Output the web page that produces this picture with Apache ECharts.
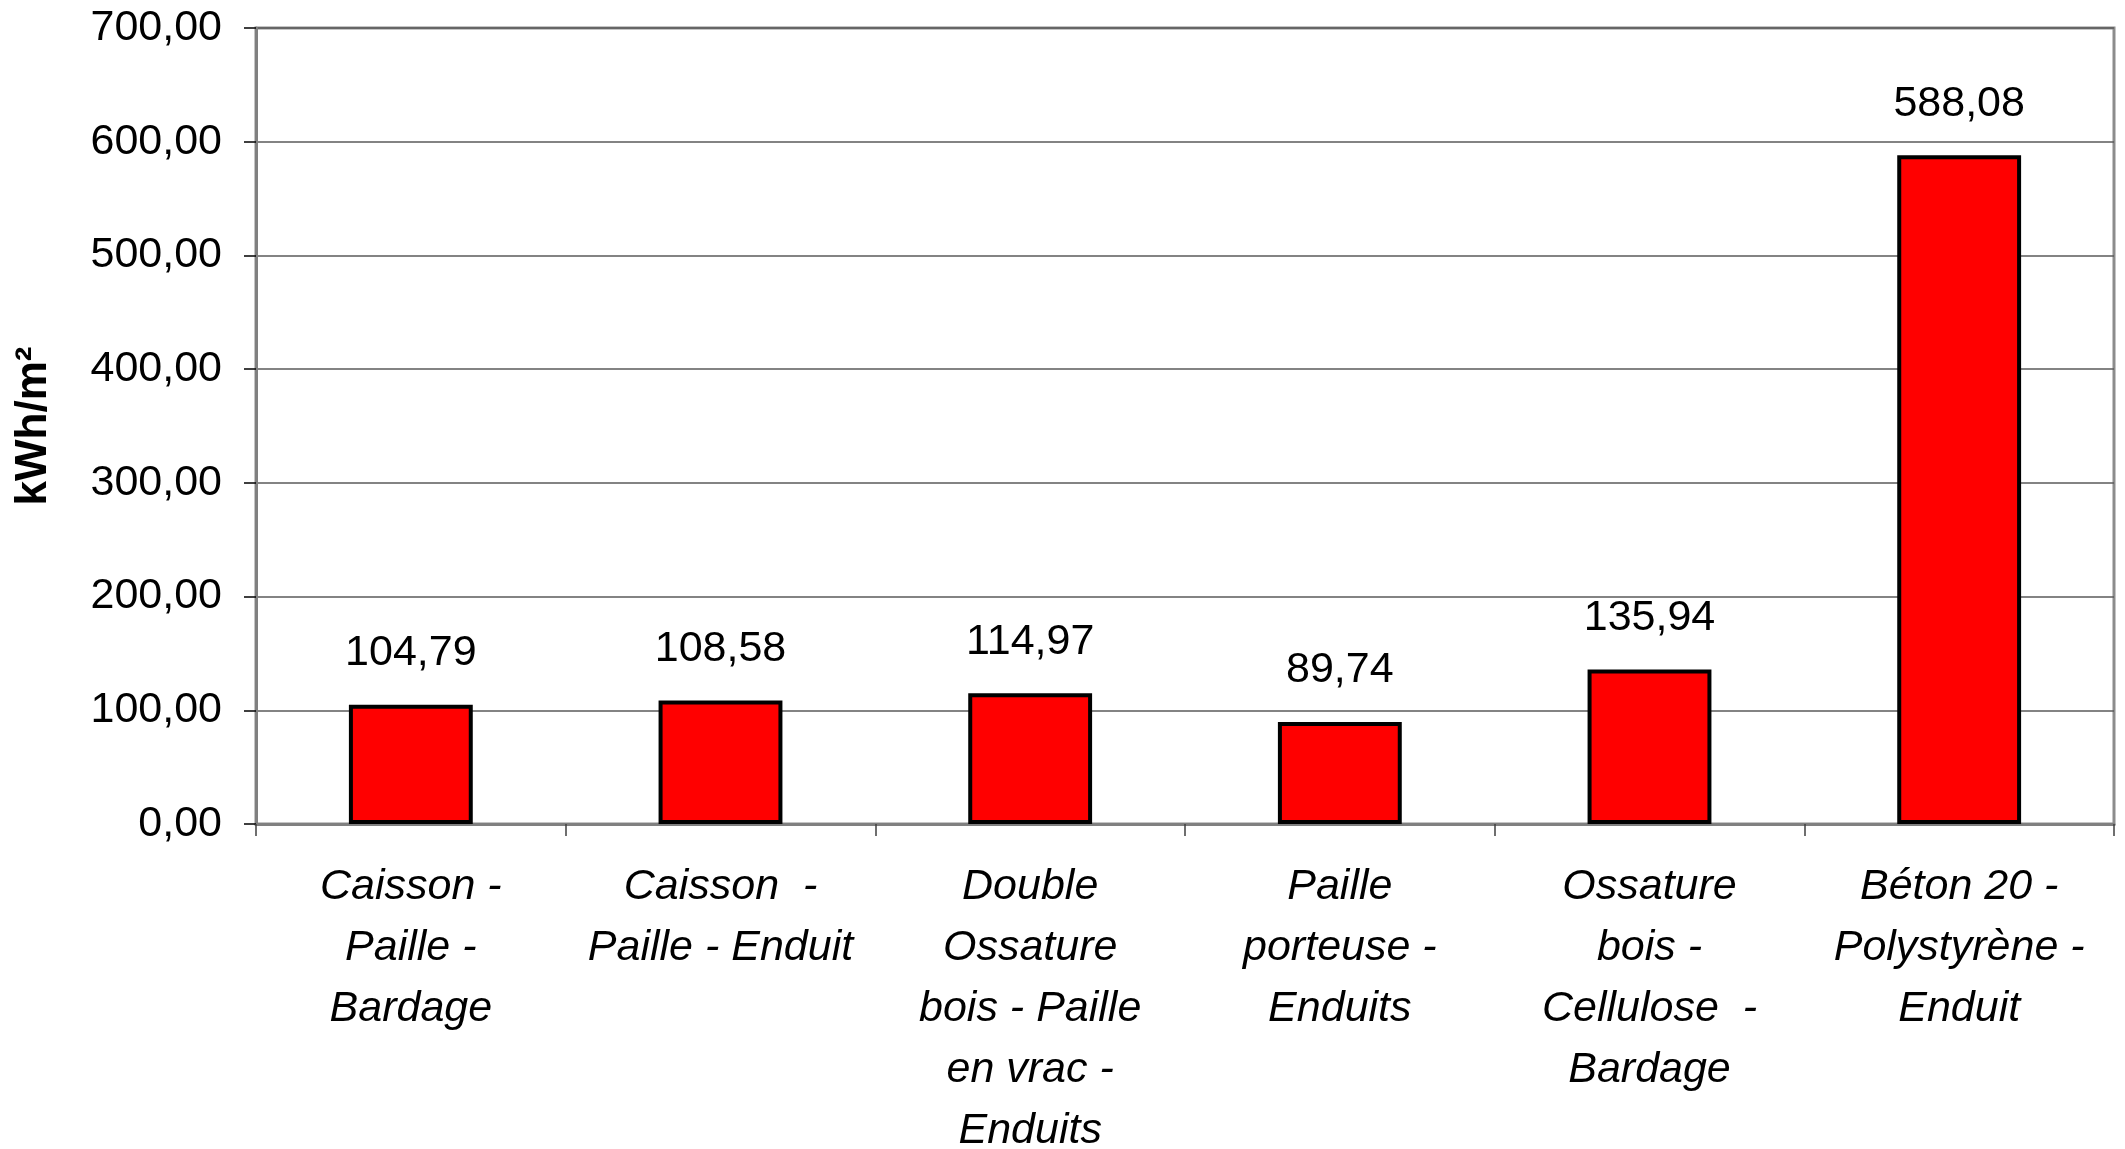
<!DOCTYPE html>
<html>
<head>
<meta charset="utf-8">
<script src="https://cdn.jsdelivr.net/npm/echarts@6/dist/echarts.min.js"></script>
<style>
html,body{margin:0;padding:0;background:#fff;}
#c{width:2125px;height:1149px;}
</style>
</head>
<body>
<div id="c"></div>
<script>
const categories = [
  "Caisson -\nPaille -\nBardage",
  "Caisson  -\nPaille - Enduit",
  "Double\nOssature\nbois - Paille\nen vrac -\nEnduits",
  "Paille\nporteuse -\nEnduits",
  "Ossature\nbois -\nCellulose  -\nBardage",
  "Béton 20 -\nPolystyrène -\nEnduit"
];
const values = [104.79, 108.58, 114.97, 89.74, 135.94, 588.08];
const yAxisName = "kWh/m²";
const yMin = 0, yMax = 700, yStep = 100;

const FONT = "'Liberation Sans', Arial, sans-serif";
const fmt = v => Number(v).toFixed(2).replace('.', ',');

const chart = echarts.init(document.getElementById('c'));
chart.setOption({
  backgroundColor: '#ffffff',
  animation: false,
  grid: { left: 256, right: 11, top: 28, bottom: 325, containLabel: false, outerBoundsMode: 'none',
          show: true, borderColor: '#8c8c8c', borderWidth: 3 },
  xAxis: {
    type: 'category',
    data: categories,
    boundaryGap: true,
    axisLine: { show: true, lineStyle: { color: '#808080', width: 3 } },
    axisTick: { show: true, length: 12, lineStyle: { color: '#404040', width: 1.5 } },
    axisLabel: {
      interval: 0, margin: 33, color: '#000', fontFamily: FONT, fontSize: 43,
      fontStyle: 'italic', lineHeight: 61, align: 'center', hideOverlap: false
    },
    splitLine: { show: false }
  },
  yAxis: {
    type: 'value',
    min: yMin, max: yMax, interval: yStep,
    name: yAxisName,
    nameLocation: 'middle',
    nameGap: 200,
    nameRotate: 90,
    nameTextStyle: { color: '#000', fontFamily: FONT, fontSize: 44, fontWeight: 'bold' },
    axisLine: { show: true, lineStyle: { color: '#808080', width: 3 } },
    axisTick: { show: true, length: 12, lineStyle: { color: '#000', width: 1.5 } },
    axisLabel: { margin: 34, color: '#000', fontFamily: FONT, fontSize: 43, formatter: v => fmt(v) },
    splitLine: { show: true, lineStyle: { color: '#5a5a5a', width: 1.5 } }
  },
  series: [{
    type: 'bar',
    data: values,
    barWidth: '40%',
    itemStyle: { color: '#ff0000', borderColor: '#000', borderWidth: 4 },
    label: {
      show: true, position: 'top', distance: 30,
      color: '#000', fontFamily: FONT, fontSize: 43,
      formatter: p => fmt(p.value)
    }
  }]
});
</script>
</body>
</html>
